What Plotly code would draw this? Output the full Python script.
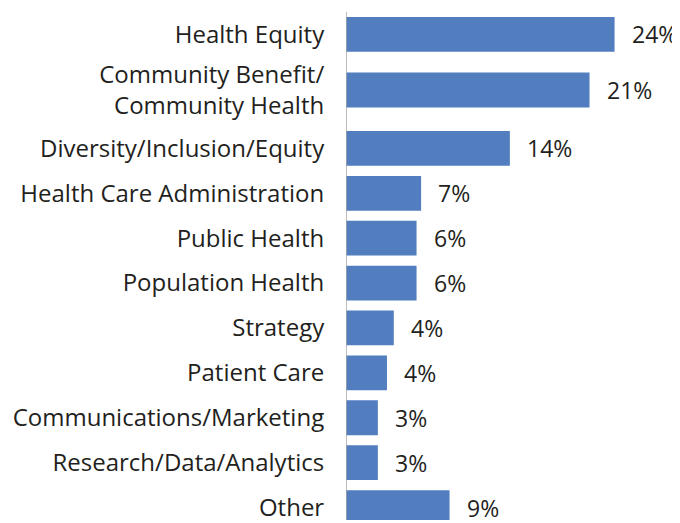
import plotly.graph_objects as go

# ---------------- data ----------------
categories = [
    "Health Equity",
    "Community Benefit/<br>Community Health",
    "Diversity/Inclusion/Equity",
    "Health Care Administration",
    "Public Health",
    "Population Health",
    "Strategy",
    "Patient Care",
    "Communications/Marketing",
    "Research/Data/Analytics",
    "Other",
]
values = [23.6, 21.4, 14.4, 6.6, 6.2, 6.2, 4.2, 3.6, 2.8, 2.8, 9.1]
value_labels = [f"{round(v)}%" for v in values]

# ---------------- layout constants (page pixels) ----------------
PAGE_W, PAGE_H = 680, 523
OFF = 8                      # default page body margin
W, H = PAGE_W - OFF, PAGE_H - OFF
ZERO_PX = 346 - OFF
PX_PER_UNIT = 11.38
BAR_PX = 35
TEXT_COLOR = "#231F20"
BAR_COLOR = "#527EC0"
FONT = "Open Sans"

# group split (first two rows have larger pitch in the reference)
groups = [
    dict(idx=range(0, 2), c0=34.5 - OFF, pitch=56.0, bottom=None),
    dict(idx=range(2, 11), c0=149.2 - OFF, pitch=45.16, bottom=H),
]


def frac(px):
    return min(1.0, max(0.0, 1 - px / H))


fig = go.Figure()
xmax = (W - ZERO_PX) / PX_PER_UNIT
annotations = []

for gi, g in enumerate(groups):
    n = len(g["idx"])
    cats = [categories[i] for i in g["idx"]]
    vals = [values[i] for i in g["idx"]]
    labs = [value_labels[i] for i in g["idx"]]
    top_px = max(0.0, g["c0"] - g["pitch"] / 2)
    bot_px = g["bottom"] if g["bottom"] is not None else g["c0"] + (n - 1) * g["pitch"] + g["pitch"] / 2
    bot_px = min(H, bot_px)
    rng_bottom = (bot_px - g["c0"]) / g["pitch"]
    rng_top = -(g["c0"] - top_px) / g["pitch"]
    xa = "x" if gi == 0 else f"x{gi + 1}"
    ya = "y" if gi == 0 else f"y{gi + 1}"
    fig.add_trace(go.Bar(
        x=vals, y=cats, orientation="h",
        marker=dict(color=BAR_COLOR, line=dict(width=0)),
        width=BAR_PX / g["pitch"],
        xaxis=xa, yaxis=ya, hoverinfo="skip", showlegend=False,
    ))
    axkey = "xaxis" if gi == 0 else f"xaxis{gi + 1}"
    aykey = "yaxis" if gi == 0 else f"yaxis{gi + 1}"
    fig.update_layout(**{
        axkey: dict(domain=[ZERO_PX / W, 1], range=[0, xmax], visible=False,
                    anchor=ya, fixedrange=True),
        aykey: dict(domain=[frac(bot_px), frac(top_px)], range=[rng_bottom, rng_top],
                    type="category", anchor=xa, showgrid=False, zeroline=False,
                    showline=False, ticks="outside", ticklen=16,
                    tickcolor="rgba(0,0,0,0)",
                    tickfont=dict(family=FONT, size=24, color=TEXT_COLOR)),
    })
    for c, v, t in zip(cats, vals, labs):
        annotations.append(dict(
            x=v, y=c, xref=xa, yref=ya, text=t, showarrow=False,
            xanchor="left", yanchor="middle", xshift=15,
            font=dict(family=FONT, size=23, color=TEXT_COLOR),
        ))

fig.update_layout(
    width=W, height=H,
    margin=dict(l=0, r=0, t=0, b=0),
    paper_bgcolor="white", plot_bgcolor="white",
    annotations=annotations,
    shapes=[dict(type="line", xref="x2", yref="paper", x0=0, x1=0,
                 y0=0, y1=frac(12 - OFF), line=dict(color="#A6A6A6", width=1.5),
                 layer="above")],
)

fig.write_html("out.html")
